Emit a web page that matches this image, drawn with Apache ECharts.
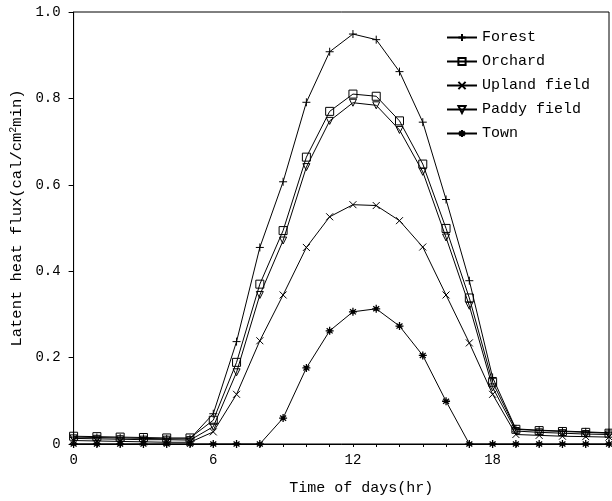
<!DOCTYPE html>
<html>
<head>
<meta charset="utf-8">
<script src="https://cdn.jsdelivr.net/npm/echarts@6/dist/echarts.min.js"></script>
<style>
  html, body { margin: 0; padding: 0; background: #fff; }
  #chart { width: 612px; height: 501px; }
</style>
</head>
<body>
<div id="chart"></div>
<script>
// Hourly latent heat flux by land use (cal/cm^2 min)
const hours = [0,1,2,3,4,5,6,7,8,9,10,11,12,13,14,15,16,17,18,19,20,21,22,23];

const forest  = [0.016,0.015,0.014,0.013,0.012,0.012,0.070,0.237,0.455,0.607,0.791,0.908,0.949,0.936,0.862,0.745,0.566,0.378,0.154,0.035,0.032,0.030,0.028,0.026];
const orchard = [0.018,0.017,0.016,0.015,0.014,0.014,0.055,0.189,0.370,0.494,0.664,0.770,0.810,0.805,0.748,0.648,0.499,0.338,0.143,0.034,0.031,0.029,0.027,0.025];
const upland  = [0.008,0.007,0.006,0.005,0.004,0.004,0.028,0.115,0.239,0.345,0.455,0.526,0.554,0.552,0.517,0.456,0.345,0.234,0.115,0.022,0.020,0.018,0.017,0.016];
const paddy   = [0.013,0.012,0.011,0.010,0.010,0.009,0.040,0.166,0.345,0.471,0.641,0.748,0.790,0.784,0.727,0.630,0.478,0.320,0.131,0.030,0.027,0.025,0.023,0.022];
const town    = [0,0,0,0,0,0,0,0,0,0.060,0.176,0.262,0.306,0.313,0.273,0.205,0.099,0,0,0,0,0,0,0];

const seriesNames = ['Forest', 'Orchard', 'Upland field', 'Paddy field', 'Town'];
const xLabels = [0, 6, 12, 18];

const FONT = 'Liberation Mono';
const INK = '#000';

function pairs(values) {
  return hours.map((h, i) => [h, values[i]]);
}

// marker shapes
const plusPath  = 'path://M5,0L5,10M0,5L10,5';
const crossPath = 'path://M0,0L10,10M0,10L10,0';
const starPath  = 'path://M5,0L5,10M0.7,5L9.3,5M1.8,1.8L8.2,8.2M1.8,8.2L8.2,1.8M3.5,3.5L6.5,3.5L6.5,6.5L3.5,6.5Z';

function lineSeries(name, values, symbol, size, extra) {
  return Object.assign({
    name: name,
    type: 'line',
    data: pairs(values),
    symbol: symbol,
    symbolSize: size,
    showAllSymbol: true,
    clip: false,
    lineStyle: { color: INK, width: 1 },
    itemStyle: { color: 'transparent', borderColor: INK, borderWidth: 1 },
    emphasis: { disabled: true },
    z: 2
  }, extra || {});
}

const chart = echarts.init(document.getElementById('chart'), null, { renderer: 'canvas' });

chart.setOption({
  animation: false,
  backgroundColor: '#fff',
  grid: {
    left: 72, right: 1, top: 12, bottom: 54,
    show: true, borderColor: INK, borderWidth: 1, backgroundColor: 'transparent'
  },
  legend: {
    data: seriesNames,
    left: 441, top: 25,
    orient: 'vertical',
    itemWidth: 30, itemHeight: 9, itemGap: 9,
    textStyle: { fontFamily: FONT, fontSize: 15, color: INK, lineHeight: 14 },
    inactiveColor: INK
  },
  xAxis: {
    type: 'value',
    min: 0, max: 23, interval: 1,
    name: 'Time of days(hr)',
    nameLocation: 'middle',
    nameGap: 37,
    nameTextStyle: { fontFamily: FONT, fontSize: 15, color: INK, padding: [0, 0, 0, 40] },
    axisLine: { lineStyle: { color: INK, width: 1 } },
    axisTick: { show: true, inside: false, length: 3, lineStyle: { color: INK } },
    axisLabel: {
      fontFamily: FONT, fontSize: 14, color: INK, margin: 9,
      formatter: v => (xLabels.indexOf(v) >= 0 ? String(v) : '')
    },
    splitLine: { show: false }
  },
  yAxis: {
    type: 'value',
    min: 0, max: 1, interval: 0.2,
    name: 'Latent heat flux(cal/cm{sup|2}min)',
    nameLocation: 'middle',
    nameRotate: 90,
    nameGap: 47,
    nameTextStyle: {
      fontFamily: FONT, fontSize: 15.5, color: INK, padding: [0, 0, 0, 20],
      rich: { sup: { fontFamily: FONT, fontSize: 10, color: INK, padding: [0, 0, 7, 0] } }
    },
    axisLine: { show: true, lineStyle: { color: INK, width: 1 } },
    axisTick: { show: true, inside: false, length: 5, lineStyle: { color: INK } },
    axisLabel: {
      fontFamily: FONT, fontSize: 14, color: INK, margin: 13,
      formatter: v => (v === 0 ? '0' : v.toFixed(1))
    },
    splitLine: { show: false }
  },
  series: [
    lineSeries('Forest', forest, plusPath, 8, { itemStyle: { color: INK, borderColor: INK, borderWidth: 1 } }),
    lineSeries('Orchard', orchard, 'rect', 8),
    lineSeries('Upland field', upland, crossPath, 7, { itemStyle: { color: INK, borderColor: INK, borderWidth: 1 } }),
    lineSeries('Paddy field', paddy, 'triangle', 7, { symbolRotate: 180 }),
    lineSeries('Town', town, starPath, 8, { itemStyle: { color: INK, borderColor: INK, borderWidth: 1.3 } })
  ]
});
</script>
</body>
</html>
